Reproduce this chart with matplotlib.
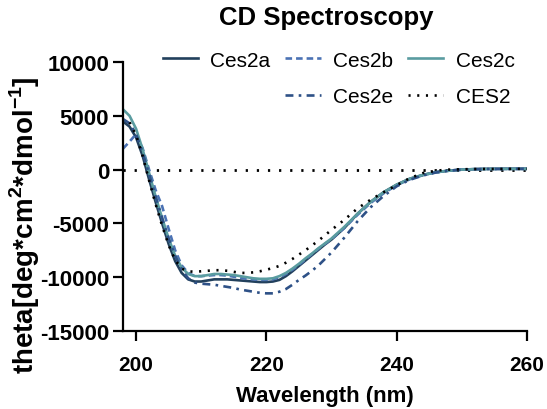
import numpy as np
import matplotlib
matplotlib.use('Agg')
import matplotlib.pyplot as plt
from matplotlib.lines import Line2D

plt.rcParams['font.family'] = ['Liberation Sans', 'DejaVu Sans']
plt.rcParams['axes.unicode_minus'] = False
plt.rcParams['mathtext.fontset'] = 'custom'
plt.rcParams['mathtext.bf'] = 'Liberation Sans:bold'
plt.rcParams['mathtext.rm'] = 'Liberation Sans:bold'

# wavelength (nm)
wl = [198, 199, 200, 201, 202, 203, 204, 205, 206, 207, 208, 209, 210,
      211, 212, 213, 214, 215, 216, 217, 218, 219, 220, 221, 222, 223,
      224, 225, 226, 227, 228, 229, 230, 232, 234, 236, 238, 240, 242,
      244, 246, 248, 250, 252, 254, 256, 258, 260]

ces2a = [4470, 4000, 3000, 1300, -900, -3000, -5000, -6900, -8500, -9600,
         -10200, -10400, -10400, -10300, -10200, -10200, -10200, -10250,
         -10300, -10350, -10400, -10450, -10450, -10400, -10250, -9900,
         -9450, -8950, -8450, -7950, -7450, -6950, -6500, -5400, -4100,
         -3000, -2100, -1400, -850, -500, -230, -100, 0, 50, 70, 80, 80, 80]

ces2b = [1950, 2600, 3300, 2000, 0, -1900, -3400, -5500, -7500, -8900,
         -9600, -9900, -9900, -9850, -9800, -9800, -9850, -9950, -10050,
         -10150, -10200, -10250, -10250, -10200, -10000, -9700, -9300,
         -8850, -8350, -7850, -7350, -6900, -6450, -5400, -4200, -3100,
         -2200, -1450, -900, -520, -250, -100, 0, 40, 60, 60, 70, 70]

ces2c = [5600, 5000, 3800, 1900, -300, -2500, -4500, -6400, -8000, -9100,
         -9700, -9900, -9900, -9800, -9700, -9700, -9750, -9800, -9900,
         -10000, -10100, -10150, -10150, -10100, -9900, -9600, -9200,
         -8750, -8250, -7800, -7300, -6850, -6400, -5300, -4100, -3000,
         -2100, -1400, -850, -500, -250, -100, 0, 40, 60, 70, 70, 70]

ces2e = [4700, 4300, 3300, 1600, -400, -2500, -4500, -6400, -8000, -9300,
         -10100, -10500, -10600, -10650, -10700, -10800, -10900, -11000,
         -11150, -11250, -11350, -11450, -11500, -11500, -11350, -11100,
         -10700, -10250, -9850, -9400, -8900, -8300, -7700, -6300, -4800,
         -3500, -2450, -1550, -950, -550, -270, -100, 0, 40, 60, 60, 70, 70]

CES2 = [np.nan, 4400, 3200, 1300, -1000, -3200, -5200, -7000, -8400, -9200,
        -9450, -9500, -9450, -9400, -9350, -9350, -9400, -9500, -9600,
        -9600, -9550, -9450, -9300, -9150, -8950, -8650, -8300, -7900,
        -7500, -7050, -6600, -6100, -5600, -4650, -3600, -2800, -2100,
        -1450, -800, -330, -100, 0, 30, 50, 60, 60, 70, 70]

fig = plt.figure(figsize=(5.47, 4.10), dpi=100)
ax = fig.add_axes([0.2249, 0.1902, 0.7385, 0.6561])

lw = 1.9
ax.axhline(0, color='black', lw=2, ls=(0, (0.8, 3.2)), zorder=1)
l1, = ax.plot(wl, ces2a, color='#22405c', lw=lw, label='Ces2a')
l2, = ax.plot(wl, ces2b, color='#4b72b4', lw=lw, ls=(0, (2.5, 1.5)), label='Ces2b')
l3, = ax.plot(wl, ces2c, color='#5a9ca0', lw=lw, label='Ces2c')
l5, = ax.plot(wl, ces2e, color='#2e5187', lw=lw, ls=(0, (3, 2, 1, 2)), label='Ces2e')
l6, = ax.plot(wl, CES2, color='black', lw=lw, ls=(0, (0.8, 2.5)), label='CES2')

ax.set_xlim(198, 260)
ax.set_ylim(-15000, 10000)
ax.set_xticks([200, 220, 240, 260])
ax.set_yticks([-15000, -10000, -5000, 0, 5000, 10000])

for s in ['top', 'right']:
    ax.spines[s].set_visible(False)
for s in ['left', 'bottom']:
    ax.spines[s].set_linewidth(1.6)
ax.tick_params(width=1.6, length=7, direction='out')
ax.tick_params(axis='x', labelsize=15, pad=10)
ax.tick_params(axis='y', labelsize=16, pad=3)
for t in ax.get_xticklabels() + ax.get_yticklabels():
    t.set_fontweight('bold')

ax.set_xlabel('Wavelength (nm)', fontsize=16, fontweight='bold', labelpad=8)
fig.text(25 / 547, 1 - 225 / 410, r'theta[deg*cm$^\mathbf{2}$*dmol$^\mathbf{-1}$]',
         fontsize=20, fontweight='bold', rotation=90, ha='center', va='center')

fig.text(0.596, 0.955, 'CD Spectroscopy', fontsize=18.5, fontweight='bold', ha='center', va='center')

blank = Line2D([], [], color='none')
handles = [l1, blank, l2, l5, l3, l6]
labels = ['Ces2a', '', 'Ces2b', 'Ces2e', 'Ces2c', 'CES2']
leg = fig.legend(handles, labels, ncol=3, loc='upper right', bbox_to_anchor=(0.975, 0.92),
                 frameon=False, fontsize=15, handlelength=1.7, handletextpad=0.6,
                 columnspacing=0.7, labelspacing=0.85)

fig.savefig('out.png', dpi=100)
